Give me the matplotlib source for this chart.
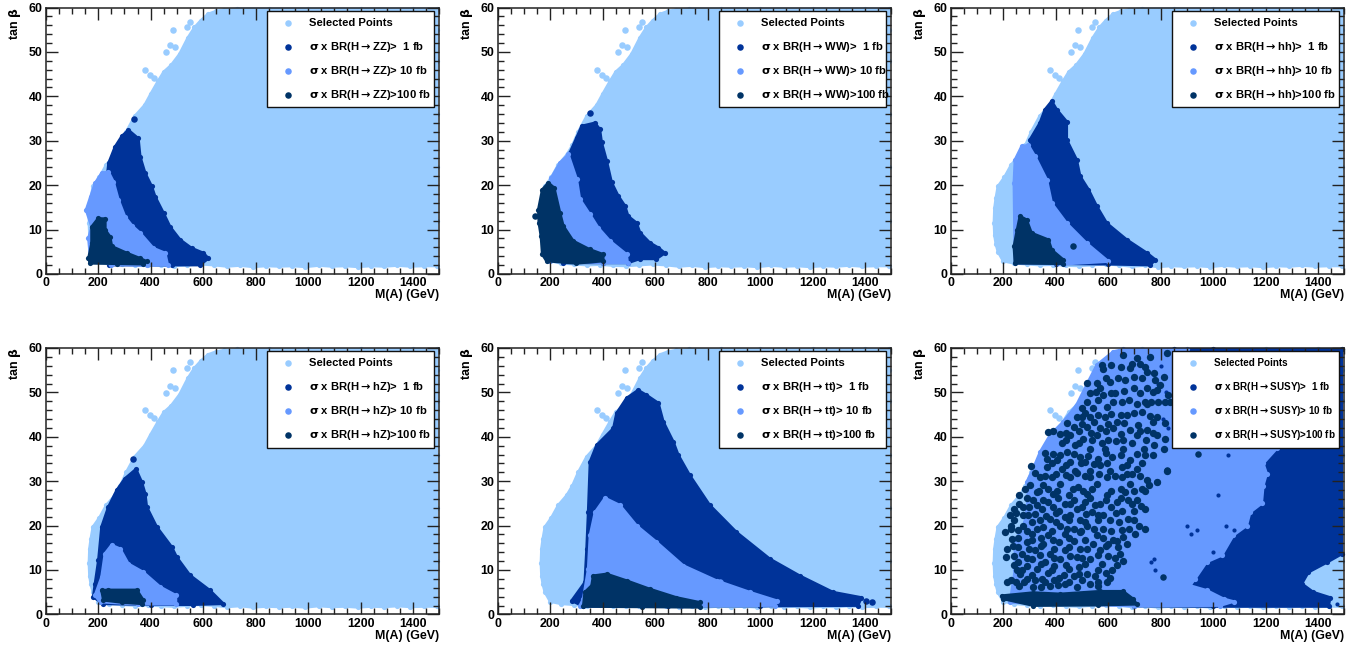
import numpy as np
import matplotlib
matplotlib.use('Agg')
import matplotlib.pyplot as plt
from matplotlib.patches import Rectangle
from matplotlib.ticker import MultipleLocator

plt.rcParams['font.family'] = ['Liberation Sans', 'DejaVu Sans']
plt.rcParams['font.weight'] = 'bold'
plt.rcParams['mathtext.default'] = 'regular'
plt.rcParams['mathtext.fontset'] = 'dejavusans'

LIGHT = '#99ccff'
DARK = '#003399'
MID = '#6699ff'
DEEP = '#003366'
FRAME = '#222222'

# Envelope of the selected points, common to all the panels (M(A), tan beta)
sel_x = [730, 680, 650, 618, 590, 567, 542, 510, 478, 450, 428, 400, 377, 339, 307, 285, 263, 231, 205, 180, 172, 167, 165, 167,
         172, 180, 200, 240, 290, 340, 390, 440, 490, 540, 590, 640, 690, 740, 790, 840, 890, 940, 990, 1040, 1090, 1140,
         1190, 1240, 1290, 1340, 1390, 1440, 1490, 1490, 1490, 1490, 1490, 1490, 1490, 1400, 1200, 1000, 850]
sel_y = [59.7, 59.5, 59.2, 58.5, 57, 55.5, 53.2, 49.5, 47, 45.5, 43.4, 40.5, 38, 35.5, 32, 29, 26.8, 24.6, 21.8, 19.7, 17, 14.8, 11.5, 8.7,
         6.8, 5, 2.9, 2.4, 2.2, 2.0, 2.1, 1.9, 1.8, 2.0, 2.2, 2.0, 1.7, 1.9, 1.6, 1.8, 1.7, 1.8, 1.6, 1.9, 1.7, 1.8,
         1.6, 1.8, 1.7, 1.9, 1.7, 1.8, 1.8, 12, 24, 36, 48, 55, 59.7, 59.7, 59.7, 59.7, 59.7]
sel_extra_x = [379, 398, 413, 459, 474, 493, 550, 485, 539]
sel_extra_y = [46, 44.8, 44.2, 49.9, 51.5, 51, 56.8, 55, 55.6]

# H -> ZZ
zz_1_x = [315, 353, 360, 379, 404, 417, 449, 474, 512, 556, 601, 620, 588, 480, 240, 230, 240, 264, 290]
zz_1_y = [32.4, 30.5, 26.4, 22.7, 19.7, 17.4, 13.7, 10.6, 7.7, 5.8, 4.7, 3.5, 2, 2, 2, 20, 25, 28.6, 31]
zz_10_x = [239, 258, 277, 302, 330, 360, 410, 455, 465, 385, 250, 170, 163, 175, 154, 171, 188, 213]
zz_10_y = [23, 20.8, 16.7, 12.9, 10.8, 9.2, 5.8, 4.7, 2, 1.9, 2.1, 3.5, 8, 10.6, 14.4, 17.4, 20.4, 22.7]
zz_100_x = [200, 227, 227, 245, 252, 309, 360, 385, 372, 270, 169, 163, 175, 175]
zz_100_y = [12.5, 12.4, 9.9, 8.4, 6.2, 4.7, 3.5, 2.8, 2.2, 2.3, 2.4, 3.5, 6.9, 10.6]
zz_1_extra_x = [335]
zz_1_extra_y = [35]

# H -> WW
ww_1_x = [370, 389, 396, 415, 434, 459, 485, 497, 529, 542, 580, 612, 637, 605, 542, 497, 400, 250, 250, 275, 301, 320]
ww_1_y = [34, 32.6, 29.6, 25.5, 20.6, 17.6, 15.3, 13, 11.5, 9.3, 7, 5.9, 4.7, 3.4, 3.4, 2.5, 2.5, 2.5, 24, 27.3, 30.7, 33.3]
ww_10_x = [269, 301, 313, 351, 383, 428, 491, 495, 400, 200, 170, 205, 237]
ww_10_y = [26.9, 21.3, 16.8, 13.4, 10.4, 7.4, 4.4, 2.5, 2.5, 3, 12, 21.7, 25]
ww_100_x = [193, 215, 237, 250, 288, 351, 402, 402, 300, 186, 170, 165, 157, 155, 170]
ww_100_y = [20.5, 19.4, 13.8, 10.8, 7.4, 5.5, 4.4, 2.9, 2.4, 2.9, 4.4, 8.5, 11.5, 14.5, 19]
ww_1_extra_x = [351]
ww_1_extra_y = [36.3]
ww_100_extra_x = [142]
ww_100_extra_y = [13]

# H -> hh
hh_1_x = [385, 404, 442, 442, 480, 493, 525, 557, 595, 671, 748, 780, 760, 600, 400, 302, 340, 359]
hh_1_y = [38.9, 37, 34.3, 30.2, 25.7, 22, 19, 15.2, 11.4, 7.7, 4.7, 3.2, 2, 2.2, 2.3, 30.2, 34, 37]
hh_10_x = [296, 321, 366, 385, 442, 518, 601, 430, 245, 241, 245, 270]
hh_10_y = [29, 26.5, 21.2, 15.9, 11.4, 6.9, 2.8, 2.2, 2.4, 20.5, 25.7, 28.7]
hh_100_x = [264, 289, 308, 372, 385, 429, 429, 245, 241, 253]
hh_100_y = [13, 12.2, 9.2, 7.7, 5.4, 3.2, 2.3, 2.4, 6.2, 9.9]
hh_100_extra_x = [467]
hh_100_extra_y = [6.2]

# H -> hZ
hz_1_x = [344, 366, 379, 385, 423, 480, 499, 550, 626, 677, 560, 400, 220, 181, 188, 201, 213, 239, 271, 302]
hz_1_y = [32.7, 29.8, 27.2, 24.2, 19.7, 15.2, 12.9, 8.8, 5.4, 2.4, 2.2, 2.2, 2.4, 3.9, 6.9, 12.2, 19.7, 24.2, 28, 30.6]
hz_10_x = [251, 283, 315, 372, 436, 496, 496, 350, 207, 188, 213, 226]
hz_10_y = [15.6, 14.8, 11.4, 9.5, 6.2, 4.3, 2.3, 2.3, 2.8, 4.3, 8.4, 13.7]
hz_100_x = [213, 239, 347, 372, 366, 290, 220]
hz_100_y = [5.4, 5.5, 5.5, 3.2, 2.4, 2.7, 3.2]
hz_1_extra_x = [334]
hz_1_extra_y = [35]

# H -> tt
tt_1_x = [535, 567, 612, 631, 669, 688, 732, 808, 910, 1037, 1151, 1278, 1386, 1373, 1000, 650, 326, 282, 332, 339, 345, 352, 377, 441, 453, 491]
tt_1_y = [50.5, 49.4, 47.6, 43.4, 38.9, 35.9, 31.3, 24.6, 18.5, 12.5, 8.7, 5, 3.8, 2, 1.9, 1.9, 1.8, 3.1, 7.2, 14.8, 23, 34.4, 38.1, 41.9, 45.3, 48.7]
tt_10_x = [409, 465, 529, 605, 707, 834, 961, 1063, 1056, 700, 313, 326, 345, 352, 371]
tt_10_y = [26.2, 24.6, 20, 16.3, 11, 7.6, 5, 3.1, 2, 1.9, 2, 3.5, 10.2, 17.8, 23]
tt_100_x = [364, 415, 491, 580, 681, 770, 770, 550, 326, 332, 358]
tt_100_y = [8.7, 9.1, 7.6, 5.7, 3.8, 2.7, 1.6, 1.7, 1.8, 5, 6.5]
tt_1_extra_x = [1405, 1428]
tt_1_extra_y = [3, 2.7]
tt_10_extra_x = [846]
tt_10_extra_y = [7.2]

# H -> SUSY
susy_1_x = [850, 1000, 1490, 1490, 1433, 1363, 1338, 1382, 1446, 1440, 1000, 700, 700]
susy_1_y = [59.7, 59.7, 59.7, 13.6, 11.7, 9.5, 6.9, 5, 3.8, 1.8, 1.8, 1.9, 30]
susy_10_x = [658, 900, 900, 1243, 1191, 1204, 1191, 1185, 1141, 1128, 1077, 1033, 975, 931, 912, 976, 1040, 1078, 1027, 700, 226,
             245, 245, 283, 296, 290, 315, 341, 379, 429, 480, 518, 557, 620]
susy_10_y = [59.7, 59.7, 55, 37.4, 34, 31.7, 29, 25, 23, 20, 17.8, 13.3, 11.8, 8, 6.5, 5.4, 3.5, 2.9, 2, 1.9, 2.7,
             10, 16.3, 20.8, 26.8, 29.8, 32.9, 36.6, 40.4, 43.4, 47.2, 51.7, 56.2, 59.2]
susy_100_x = [194, 315, 417, 569, 657, 695, 709, 560, 315, 200]
susy_100_y = [4.2, 4.9, 4.6, 5.2, 5.2, 3.5, 2.3, 2.1, 2, 3.5]

# Scattered points above the 10 fb area
susy_100_pts_x = [519, 369, 305, 576, 582, 658, 709, 760, 773, 824, 684, 722, 557, 569, 608, 639, 697, 747, 798, 811, 531, 519, 500, 582, 627,
                  697, 747, 786, 830, 544, 595, 652, 709, 747, 500, 480, 531, 588, 633, 671, 728, 786, 817, 468, 519, 569, 620, 684, 747, 786,
                  417, 455, 506, 557, 601, 658, 709, 817, 773, 423, 474, 531, 588, 658, 735, 811, 391, 442, 493, 563, 614, 684, 741, 366, 404,
                  455, 512, 569, 652, 709, 366, 423, 474, 531, 608, 690, 824, 341, 385, 455, 531, 595, 652, 747, 786, 303, 353, 417, 487, 557,
                  684, 754, 262, 328, 391, 449, 519, 595, 665, 741, 677, 315, 372, 436, 512, 569, 633, 709, 741, 242, 277, 347, 411, 480, 538,
                  582, 652, 697, 226, 296, 379, 436, 493, 608, 677, 716, 229, 277, 353, 417, 468, 519, 582, 652, 741, 207, 258, 309, 372, 436,
                  493, 557, 658, 703, 233, 290, 353, 411, 468, 544, 601, 633, 671, 216, 239, 271, 322, 379, 436, 493, 569, 639, 210, 258, 309,
                  360, 417, 480, 531, 601, 646, 658, 271, 328, 385, 449, 512, 563, 633, 252, 290, 347, 411, 468, 519, 614, 214, 249, 315, 379,
                  436, 531, 595, 608, 740, 765, 790, 815, 835]
susy_100_pts_y = [52.2, 41.1, 33.4, 56.2, 55.3, 58.4, 57.7, 58, 54.3, 58.8, 55.4, 56.5, 52.2, 50.9, 52.4, 53.2, 53.5, 54.7, 51.6, 53.5, 49.8, 47.9, 46.4, 49.4, 49.8,
                  50.9, 50.9, 50.5, 49.4, 46.4, 46.8, 47.9, 47.5, 47.5, 44.5, 44.5, 44.5, 44.5, 43.4, 44.9, 45.6, 44.5, 43, 42.2, 42.2, 41.9, 41.9, 41.5, 41.5, 40.3,
                  40.7, 40.3, 39.6, 40.3, 39.2, 39.2, 40.3, 39.6, 38.1, 38.5, 38.1, 37.3, 37.3, 37.3, 37.3, 37.3, 36.2, 36.6, 35.5, 35.1, 35.5, 34.7, 35.8, 35.1, 34.7,
                  34.3, 34.3, 33.6, 33.2, 32.8, 33.2, 32.8, 32.4, 32.4, 32.4, 31.7, 32.4, 30.9, 30.9, 30.9, 30.9, 30.9, 30.9, 30.2, 29.8, 29.1, 29.1, 29.4, 28.7, 29.4,
                  29.4, 29.1, 26.8, 27.6, 27.2, 26.8, 27.2, 26.8, 27.6, 27.9, 25.7, 25.7, 25.3, 24.9, 25.3, 24.9, 25.3, 25.7, 23.8, 23.8, 24.2, 23.8, 23.4, 23.8, 23,
                  22.3, 23.4, 23.4, 22.3, 22.3, 21.5, 21.9, 21.2, 21.2, 21.5, 20, 20, 20, 19.6, 20, 19.3, 20, 19.3, 18.9, 19.3, 18.5, 18.9, 18.1, 17.8, 18.1,
                  18.5, 17.8, 17.4, 18.1, 17, 16.3, 15.9, 16.3, 16.6, 15.9, 15.9, 16.6, 15.9, 14.7, 15.5, 13.6, 14.4, 13.6, 14.4, 14.8, 14.4, 15.1, 12.9, 11.7, 12.5,
                  11.7, 12.5, 12.9, 12.5, 13.2, 13.6, 12.1, 9.9, 10.2, 9.9, 10.2, 11.4, 9.9, 11.1, 9.9, 8, 8, 8.3, 8.7, 9.1, 9.9, 7.2, 7.2, 6.1, 6.5,
                  6.8, 6.8, 7.2, 8.1, 47.9, 47.8, 47.9, 47.8, 47.9]
# the denser patches of the same cloud, row by row
susy_fill_x = [440, 490, 540, 575, 630, 690, 745,
               360, 415, 470, 525, 590, 650, 710, 770,
               385, 440, 495, 545, 595, 670, 730,
               320, 360, 400, 440, 480, 510, 565, 625, 670, 720,
               285, 335, 370, 405, 465, 505, 540, 610, 650, 700, 730,
               290, 350, 410, 470, 530, 590, 650,
               260, 300, 330, 390, 455, 500, 550, 610, 690, 725,
               250, 275, 320, 365, 400, 455, 515, 560, 630,
               240, 310, 340, 400, 450, 510, 560, 640, 700,
               230, 290, 330, 385, 445, 495, 545, 610, 680,
               255, 310, 345, 390, 450, 510, 580, 620,
               255, 300, 345, 395, 450, 520, 590,
               240, 290, 340, 395, 455, 500, 560, 625,
               240, 290, 345, 395, 440, 490, 575,
               265, 310, 370, 430, 490, 550, 590,
               230, 280, 320, 360, 395, 450, 500, 560,
               260, 345, 410, 480, 560,
               610, 650, 690, 740,
               590, 665, 730, 780,
               555, 610, 660, 720, 770,
               560, 620, 680,
               510, 560, 610, 650, 700, 760,
               445, 500, 545, 600, 660, 715, 770,
               390, 440, 490, 535, 590, 650, 720, 770]
susy_fill_y = [39.2, 38.7, 39.3, 38.6, 39.1, 38.5, 39.2,
               36.3, 35.8, 36.2, 35.7, 36.3, 35.9, 36.2, 35.8,
               34, 33.6, 34.2, 33.8, 34.1, 33.6, 34.2,
               31.8, 31.2, 31.7, 31.3, 31.8, 31.2, 31.6, 31.2, 31.7, 31.2,
               28.3, 27.8, 28.2, 27.7, 28.3, 27.8, 28.2, 27.7, 28.3, 27.8, 28.2,
               26.3, 25.8, 26.2, 25.8, 26.3, 25.7, 26.2,
               24.8, 24.3, 24.7, 24.3, 24.8, 24.2, 24.7, 24.3, 24.8, 24.4,
               22.8, 22.3, 22.7, 22.2, 22.8, 22.3, 22.7, 22.3, 22.8,
               21.2, 20.8, 21.3, 20.8, 21.2, 20.7, 21.3, 20.8, 21.2,
               19.2, 18.8, 19.3, 18.8, 19.2, 18.7, 19.3, 18.8, 19.2,
               17.2, 16.8, 17.3, 16.8, 17.2, 16.7, 17.3, 16.8,
               15.2, 14.8, 15.3, 14.8, 15.2, 14.7, 15.3,
               13.2, 12.8, 13.3, 12.8, 13.2, 12.7, 13.3, 12.8,
               11.2, 10.8, 11.3, 10.8, 11.2, 10.7, 11.3,
               9.2, 8.8, 9.3, 8.8, 9.2, 8.7, 9.3,
               7.7, 7.3, 7.8, 7.3, 7.7, 7.3, 7.8, 7.3,
               6.5, 6.2, 6.6, 6.2, 6.5,
               56.2, 55.7, 56.3, 55.8,
               53.2, 52.8, 53.3, 52.8,
               50.2, 49.8, 50.3, 49.8, 50.2,
               48.3, 47.8, 48.2,
               45.3, 44.8, 45.2, 44.8, 45.3, 44.7,
               43.2, 42.8, 43.3, 42.8, 43.2, 42.7, 43.3,
               41.2, 40.8, 41.3, 40.8, 41.2, 40.7, 41.3, 40.8]
susy_100_specks_x = [944, 823, 785, 810]
susy_100_specks_y = [36.2, 32.5, 29.8, 8.5]
susy_1_specks_x = [1471, 762, 773, 780, 900, 915, 940, 1050, 1080, 1020, 1000, 1058, 790, 800, 820, 810, 830]
susy_1_specks_y = [2.3, 11.8, 12.5, 10, 20, 18, 19, 20, 19, 27, 14, 36, 52, 56, 50, 44, 42]

MARKER = 22
EDGE_MARKER = 14
PANEL_W, PANEL_H = 393.6, 266.4
FIG_W, FIG_H = 1364, 647


def draw_region(ax, x, y, color, z):
    # filled envelope, the circles on it give the lumpy edge of the points
    ax.fill(x, y, facecolor=color, edgecolor=color, lw=2, joinstyle='round', zorder=z, clip_on=False)
    ax.scatter(x, y, s=EDGE_MARKER, color=color, lw=0, zorder=z, clip_on=False)


def draw_points(ax, x, y, color, z, s=MARKER):
    ax.scatter(x, y, s=s, color=color, lw=0, zorder=z, clip_on=False)


def make_axes(left, top, channel, fontsize=8.1):
    ax = fig.add_axes([left / FIG_W, 1 - (top + PANEL_H) / FIG_H, PANEL_W / FIG_W, PANEL_H / FIG_H])
    ax.set_xlim(0, 1500)
    ax.set_ylim(0, 60)
    ax.xaxis.set_major_locator(MultipleLocator(200))
    ax.xaxis.set_minor_locator(MultipleLocator(50))
    ax.yaxis.set_major_locator(MultipleLocator(10))
    ax.yaxis.set_minor_locator(MultipleLocator(2))
    ax.tick_params(which='major', direction='in', top=True, right=True, length=8.8, width=1, color=FRAME,
                   labelsize=8.9, pad=2.5, labelcolor='black')
    ax.tick_params(which='minor', direction='in', top=True, right=True, length=4.4, width=1, color=FRAME)
    ax.tick_params(axis='x', which='major', pad=2.5)
    for spine in ax.spines.values():
        spine.set_linewidth(1.1)
        spine.set_color(FRAME)
        spine.set_zorder(4)
    ax.text(1.0, -0.0805, 'M(A) (GeV)', transform=ax.transAxes, ha='right', va='center', fontsize=8.9)
    ax.text(-0.079, 1.0, r'tan $\mathrm{\beta}$', transform=ax.transAxes, ha='center', va='top', rotation=90, fontsize=8.9)

    draw_region(ax, sel_x, sel_y, LIGHT, 1.0)
    draw_points(ax, sel_extra_x, sel_extra_y, LIGHT, 1.0)

    # legend box
    x0, x1, y0, y1 = 0.5623, 0.9866, 0.626, 0.988
    ax.add_patch(Rectangle((x0, y0), x1 - x0, y1 - y0, transform=ax.transAxes, facecolor='white',
                           edgecolor='#111111', lw=1, zorder=6, clip_on=False))
    labels = ['Selected Points',
              r'$\mathrm{\sigma}$ x BR(H$\mathrm{\rightarrow}$%s)>  1 fb' % channel,
              r'$\mathrm{\sigma}$ x BR(H$\mathrm{\rightarrow}$%s)> 10 fb' % channel,
              r'$\mathrm{\sigma}$ x BR(H$\mathrm{\rightarrow}$%s)>100 fb' % channel]
    colors = [LIGHT, DARK, MID, DEEP]
    for frac, label, col in zip([0.125, 0.375, 0.625, 0.872], labels, colors):
        yy = y1 - frac * (y1 - y0)
        ax.scatter([x0 + 0.128 * (x1 - x0)], [yy], s=MARKER, color=col, lw=0, transform=ax.transAxes, zorder=7)
        ax.text(x0 + 0.249 * (x1 - x0), yy, label, transform=ax.transAxes, ha='left', va='center',
                fontsize=fontsize, zorder=7)
    return ax


fig = plt.figure(figsize=(FIG_W / 100, FIG_H / 100), dpi=100, facecolor='white')

ax = make_axes(45.7, 7.5, 'ZZ')
draw_region(ax, zz_1_x, zz_1_y, DARK, 1.1)
draw_points(ax, zz_1_extra_x, zz_1_extra_y, DARK, 1.1)
draw_region(ax, zz_10_x, zz_10_y, MID, 1.2)
draw_region(ax, zz_100_x, zz_100_y, DEEP, 1.3)

ax = make_axes(497.7, 7.5, 'WW')
draw_region(ax, ww_1_x, ww_1_y, DARK, 1.1)
draw_points(ax, ww_1_extra_x, ww_1_extra_y, DARK, 1.1)
draw_region(ax, ww_10_x, ww_10_y, MID, 1.2)
draw_region(ax, ww_100_x, ww_100_y, DEEP, 1.3)
draw_points(ax, ww_100_extra_x, ww_100_extra_y, DEEP, 1.3)

ax = make_axes(950.7, 7.5, 'hh')
draw_region(ax, hh_1_x, hh_1_y, DARK, 1.1)
draw_region(ax, hh_10_x, hh_10_y, MID, 1.2)
draw_region(ax, hh_100_x, hh_100_y, DEEP, 1.3)
draw_points(ax, hh_100_extra_x, hh_100_extra_y, DEEP, 1.3)

ax = make_axes(45.7, 348, 'hZ')
draw_region(ax, hz_1_x, hz_1_y, DARK, 1.1)
draw_points(ax, hz_1_extra_x, hz_1_extra_y, DARK, 1.1)
draw_region(ax, hz_10_x, hz_10_y, MID, 1.2)
draw_region(ax, hz_100_x, hz_100_y, DEEP, 1.3)

ax = make_axes(497.7, 348, 'tt')
draw_region(ax, tt_1_x, tt_1_y, DARK, 1.1)
draw_points(ax, tt_1_extra_x, tt_1_extra_y, DARK, 1.1)
draw_region(ax, tt_10_x, tt_10_y, MID, 1.2)
draw_points(ax, tt_10_extra_x, tt_10_extra_y, MID, 1.2)
draw_region(ax, tt_100_x, tt_100_y, DEEP, 1.3)

ax = make_axes(950.7, 348, 'SUSY', fontsize=7.1)
draw_region(ax, susy_1_x, susy_1_y, DARK, 1.1)
draw_region(ax, susy_10_x, susy_10_y, MID, 1.2)
draw_points(ax, susy_1_specks_x, susy_1_specks_y, DARK, 1.25, s=9)
draw_region(ax, susy_100_x, susy_100_y, DEEP, 1.3)
draw_points(ax, susy_100_pts_x, susy_100_pts_y, DEEP, 1.3, s=28)
draw_points(ax, susy_fill_x, susy_fill_y, DEEP, 1.3, s=28)
draw_points(ax, susy_100_specks_x, susy_100_specks_y, DEEP, 1.3)

fig.savefig('out.png', dpi=100)
